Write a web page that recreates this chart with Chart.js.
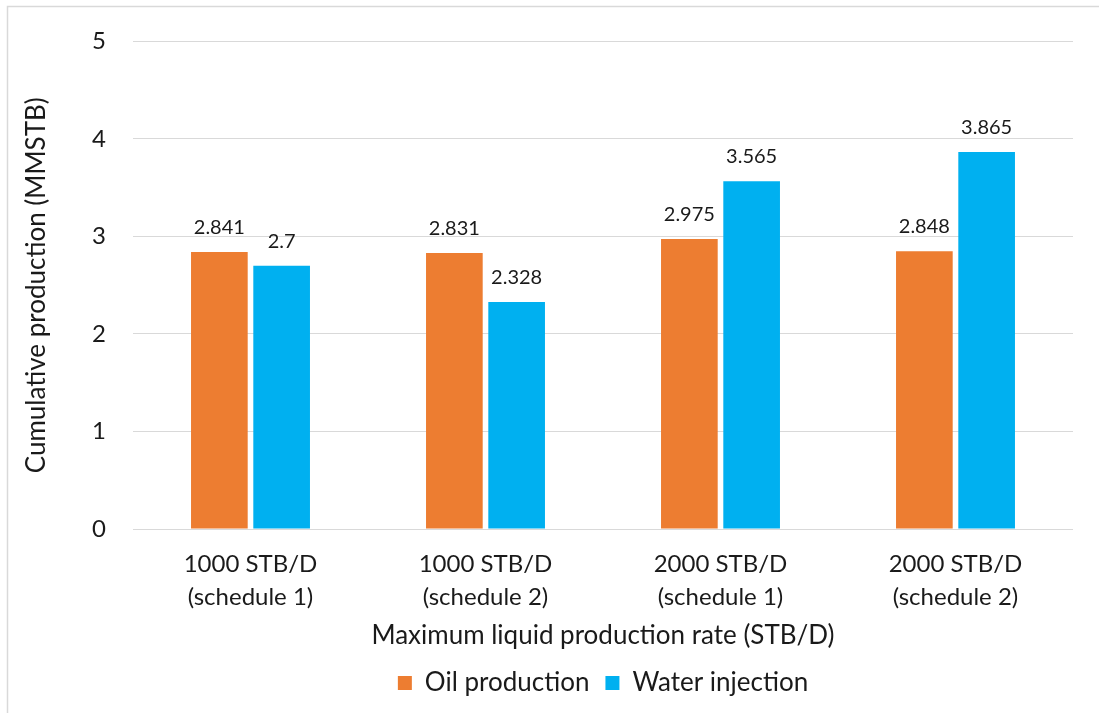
<!DOCTYPE html>
<html>
<head>
<meta charset="utf-8">
<script src="https://cdn.jsdelivr.net/npm/chart.js@4.4.1/dist/chart.umd.min.js"></script>
<style>
  html, body { margin: 0; padding: 0; background: #fff; }
  #wrap { width: 1099px; height: 713px; position: relative; }
</style>
</head>
<body>
<div id="wrap"><canvas id="chart"></canvas></div>
<script>
// chart data
const categories = [
    ['1000 STB/D', '(schedule 1)'],
    ['1000 STB/D', '(schedule 2)'],
    ['2000 STB/D', '(schedule 1)'],
    ['2000 STB/D', '(schedule 2)']
];
const oilProduction = [2.841, 2.831, 2.975, 2.848];
const waterInjection = [2.7, 2.328, 3.565, 3.865];
const yTicks = [0, 1, 2, 3, 4, 5];

const FONT = "Lato, 'Open Sans', sans-serif";
const TEXT = '#1a1a1a';

// frame around the chart (only left/top edges show in the picture)
const framePlugin = {
    id: 'frame',
    beforeDraw(chart) {
        const ctx = chart.ctx;
        ctx.save();
        ctx.fillStyle = '#fff';
        ctx.fillRect(0, 0, chart.width, chart.height);
        ctx.strokeStyle = '#d9d9d9';
        ctx.lineWidth = 1.5;
        ctx.beginPath();
        ctx.moveTo(7.5, chart.height);
        ctx.lineTo(7.5, 6.5);
        ctx.lineTo(chart.width, 6.5);
        ctx.stroke();
        ctx.restore();
    }
};

// value labels above each bar
const valueLabels = {
    id: 'valueLabels',
    afterDatasetsDraw(chart) {
        const ctx = chart.ctx;
        ctx.save();
        ctx.font = '20px ' + FONT;
        ctx.fillStyle = TEXT;
        ctx.textAlign = 'center';
        ctx.textBaseline = 'alphabetic';
        chart.data.datasets.forEach((ds, i) => {
            chart.getDatasetMeta(i).data.forEach((bar, j) => {
                ctx.fillText(String(ds.data[j]), bar.x, bar.y - 18);
            });
        });
        ctx.restore();
    }
};

new Chart(document.getElementById('chart'), {
    type: 'bar',
    data: {
        labels: categories,
        datasets: [
            {
                label: 'Oil production',
                data: oilProduction,
                backgroundColor: '#ED7D31',
                categoryPercentage: 0.53,
                barPercentage: 0.91
            },
            {
                label: 'Water injection',
                data: waterInjection,
                backgroundColor: '#00B0F0',
                categoryPercentage: 0.53,
                barPercentage: 0.91
            }
        ]
    },
    options: {
        responsive: true,
        maintainAspectRatio: false,
        animation: false,
        layout: { padding: { top: 41, right: 26, bottom: 7, left: 0 } },
        scales: {
            x: {
                grid: { display: false },
                border: { display: false },
                ticks: {
                    color: TEXT,
                    font: { family: FONT, size: 24, lineHeight: 1.375 },
                    padding: 11,
                    maxRotation: 0
                },
                title: {
                    display: true,
                    text: 'Maximum liquid production rate (STB/D)',
                    color: TEXT,
                    font: { family: FONT, size: 26 },
                    padding: { top: 4, bottom: 3 }
                },
                afterFit(scale) { scale.height = 125; }
            },
            y: {
                min: 0,
                max: 5,
                afterBuildTicks(scale) { scale.ticks = yTicks.map(v => ({ value: v })); },
                grid: { color: '#d9d9d9', lineWidth: 1, drawTicks: false },
                border: { display: false },
                ticks: {
                    color: TEXT,
                    font: { family: FONT, size: 24 },
                    padding: 27
                },
                title: {
                    display: true,
                    text: 'Cumulative production (MMSTB)',
                    color: TEXT,
                    font: { family: FONT, size: 26 },
                    padding: { top: 21, bottom: 0 }
                },
                afterFit(scale) { scale.width = 133; }
            }
        },
        plugins: {
            legend: {
                position: 'bottom',
                fullSize: false,
                labels: {
                    color: TEXT,
                    font: { family: FONT, size: 26 },
                    boxWidth: 14,
                    boxHeight: 14,
                    padding: 16
                }
            },
            tooltip: { enabled: false }
        }
    },
    plugins: [framePlugin, valueLabels]
});
</script>
</body>
</html>
